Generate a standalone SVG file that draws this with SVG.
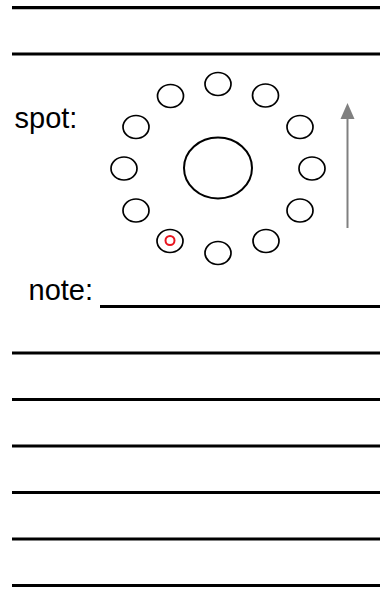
<svg xmlns="http://www.w3.org/2000/svg" width="389" height="590" viewBox="0 0 389 590">
<style>
.rule{stroke:#000;stroke-width:3.2;fill:none}
.spot{fill:#fff;stroke:#000;stroke-width:1.7}
.lbl{font-family:"Liberation Sans",Arial,sans-serif;font-size:29px;fill:#000}
</style>
<rect width="389" height="590" fill="#fff"/>
<g id="rules">
<line class="rule" x1="12" y1="7.6" x2="380" y2="7.6"/>
<line class="rule" x1="12" y1="54" x2="380" y2="54"/>
<line class="rule" x1="100" y1="306.5" x2="380" y2="306.5"/>
<line class="rule" x1="12" y1="353" x2="380" y2="353"/>
<line class="rule" x1="12" y1="399.5" x2="380" y2="399.5"/>
<line class="rule" x1="12" y1="446" x2="380" y2="446"/>
<line class="rule" x1="12" y1="492.5" x2="380" y2="492.5"/>
<line class="rule" x1="12" y1="539" x2="380" y2="539"/>
<line class="rule" x1="12" y1="585.5" x2="380" y2="585.5"/>
</g>
<g id="labels">
<text class="lbl" x="14.5" y="127.5">spot:</text>
<text class="lbl" x="28.5" y="299.5">note:</text>
</g>
<g id="center"><ellipse cx="218" cy="168" rx="34" ry="30.5" fill="#fff" stroke="#000" stroke-width="2"/></g>
<g id="spots">
<ellipse class="spot" cx="218" cy="84" rx="13" ry="11.5"/>
<ellipse class="spot" cx="265.5" cy="95.5" rx="13" ry="11.5"/>
<ellipse class="spot" cx="300" cy="127" rx="13" ry="11.5"/>
<ellipse class="spot" cx="312" cy="168.5" rx="13" ry="11.5"/>
<ellipse class="spot" cx="300" cy="210.5" rx="13" ry="11.5"/>
<ellipse class="spot" cx="266" cy="241" rx="13" ry="11.5"/>
<ellipse class="spot" cx="218" cy="253" rx="13" ry="11.5"/>
<ellipse class="spot" cx="170" cy="241" rx="13" ry="11.5"/>
<ellipse class="spot" cx="136" cy="210.5" rx="13" ry="11.5"/>
<ellipse class="spot" cx="124" cy="168.5" rx="13" ry="11.5"/>
<ellipse class="spot" cx="136" cy="127" rx="13" ry="11.5"/>
<ellipse class="spot" cx="170.5" cy="96" rx="13" ry="11.5"/>
</g>
<g id="marker"><circle cx="170" cy="240.5" r="4.5" fill="none" stroke="#e8141e" stroke-width="2"/></g>
<g id="connectors">
<line x1="347.5" y1="228" x2="347.5" y2="117" stroke="#808080" stroke-width="2"/>
<path d="M347.5,103 L340.5,119 L354.5,119 z" fill="#808080"/>
</g>
</svg>
